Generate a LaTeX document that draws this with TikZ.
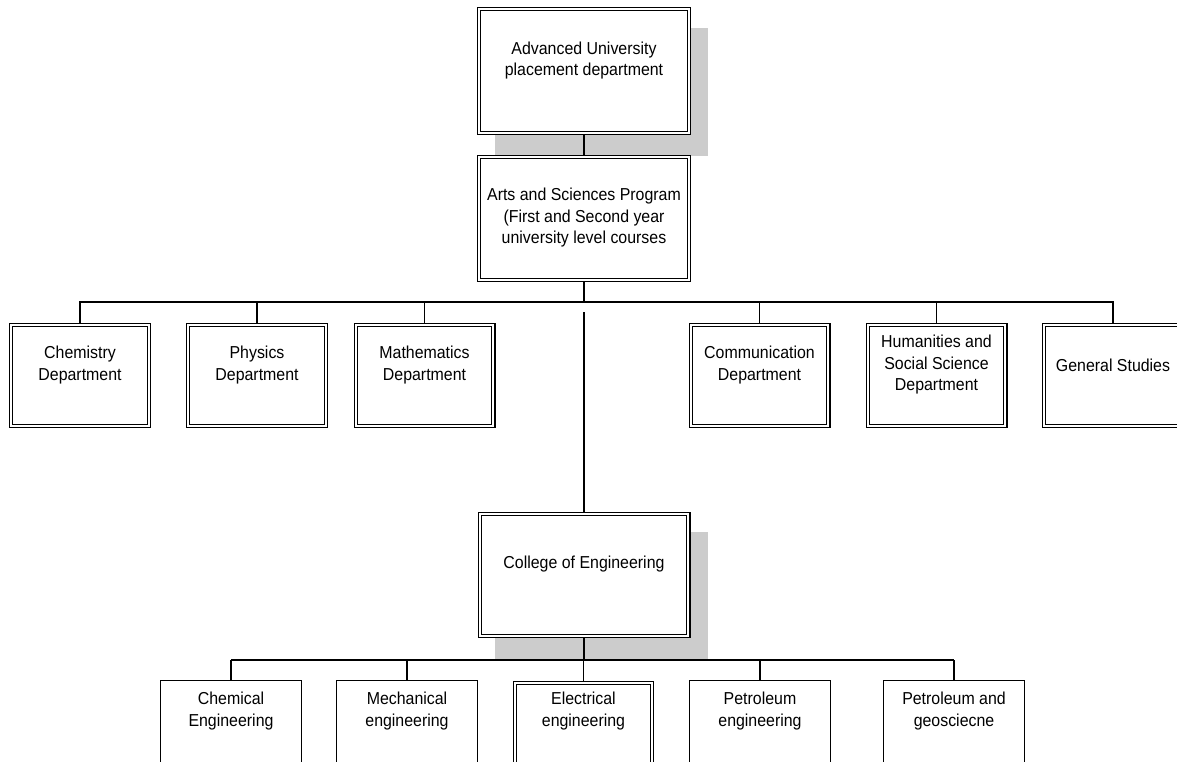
\documentclass[tikz,border=0pt]{standalone}
\usepackage{fontspec}
\setmainfont[FakeStretch=0.92]{Liberation Sans}
\usetikzlibrary{backgrounds}
\pgfdeclarelayer{background}
\pgfsetlayers{background,main}
\tikzset{
  dbox/.style={draw, double, line width=1.1pt, double distance=2.2pt, fill=white, inner sep=0pt, outer sep=0pt},
  sbox/.style={draw, line width=1.2pt, fill=white, inner sep=0pt, outer sep=0pt},
  txt/.style={align=center, inner sep=0pt, font=\fontsize{17.3}{21.5}\selectfont},
  conn/.style={line width=1.2pt},
  busline/.style={line width=2pt},
  shadowfill/.style={fill=black!20},
  midbox/.style={dbox, minimum width=137.6pt, minimum height=100.6pt},
  lowbox/.style={sbox, minimum width=140.8pt, minimum height=103.8pt}
}
\begin{document}
\begin{tikzpicture}[x=1pt,y=-1pt]
\useasboundingbox (0,0) rectangle (1177,761);
\clip (0,0) rectangle (1177,761);
% boxes
\node[dbox, minimum width=209.6pt, minimum height=123.6pt] (top) at (584,71) {};
\node[dbox, minimum width=209.6pt, minimum height=122.6pt] (arts) at (584,218.5) {};
\node[midbox] (chem) at (80,375.5) {};
\node[midbox] (phys) at (257,375.5) {};
\node[midbox] (math) at (424.5,375.5) {};
\node[midbox] (comm) at (759.5,375.5) {};
\node[midbox] (hum) at (936.5,375.5) {};
\node[midbox] (gen) at (1113,375.5) {};
\node[dbox, minimum width=208.6pt, minimum height=121.6pt] (college) at (584,575) {};
\node[lowbox] (chemical) at (231,732.5) {};
\node[lowbox] (mech) at (407,732.5) {};
\node[dbox, minimum width=136.6pt, minimum height=100.6pt] (elec) at (583.5,733.5) {};
\node[lowbox] (petro) at (760,732.5) {};
\node[lowbox] (pg) at (954,732.5) {};
% texts
\node[txt] (topt) at (584,60.5) {Advanced University\\placement department};
\node[txt] (artst) at (584,218) {Arts and Sciences Program\\(First and Second year\\university level courses};
\node[txt] (chemt) at (80,365) {Chemistry\\Department};
\node[txt] (physt) at (257,365) {Physics\\Department};
\node[txt] (matht) at (424.5,365) {Mathematics\\Department};
\node[txt] (commt) at (759.5,365) {Communication\\Department};
\node[txt] (humt) at (936.5,365) {Humanities and\\Social Science\\Department};
\node[txt] (gent) at (1113,365) {General Studies};
\node[txt] (colleget) at (584,564.5) {College of Engineering};
\node[txt] (chemicalt) at (231,711) {Chemical\\Engineering};
\node[txt] (mecht) at (407,711) {Mechanical\\engineering};
\node[txt] (elect) at (583.5,711) {Electrical\\engineering};
\node[txt] (petrot) at (760,711) {Petroleum\\engineering};
\node[txt] (pgt) at (954,711) {Petroleum and\\geosciecne};
% shadows and connectors
\begin{pgfonlayer}{background}
\fill[shadowfill] (495,28) rectangle (708,156);
\fill[shadowfill] (495,532) rectangle (708,659);
\draw[conn] (top.south) -- (arts.north);
\coordinate (bus1) at (584,302);
\draw[busline] (arts.south) -- (bus1);
\draw[conn] (chem.north) -- (chem.north |- bus1) -- (gen.north |- bus1) -- (gen.north);
\foreach \n in {phys,math,comm,hum} {\draw[conn] (\n.north) -- (\n.north |- bus1);}
\coordinate (cstart) at (584,312);
\draw[conn] (cstart) -- (college.north);
\coordinate (bus2) at (584,660);
\draw[busline] (college.south) -- (bus2);
\draw[conn, line width=1.6pt] (chemical.north |- bus2) -- (pg.north |- bus2);
\foreach \n in {chemical,mech,elec,petro,pg} {\draw[conn] (\n.north) -- (\n.north |- bus2);}
\end{pgfonlayer}
\end{tikzpicture}
\end{document}
